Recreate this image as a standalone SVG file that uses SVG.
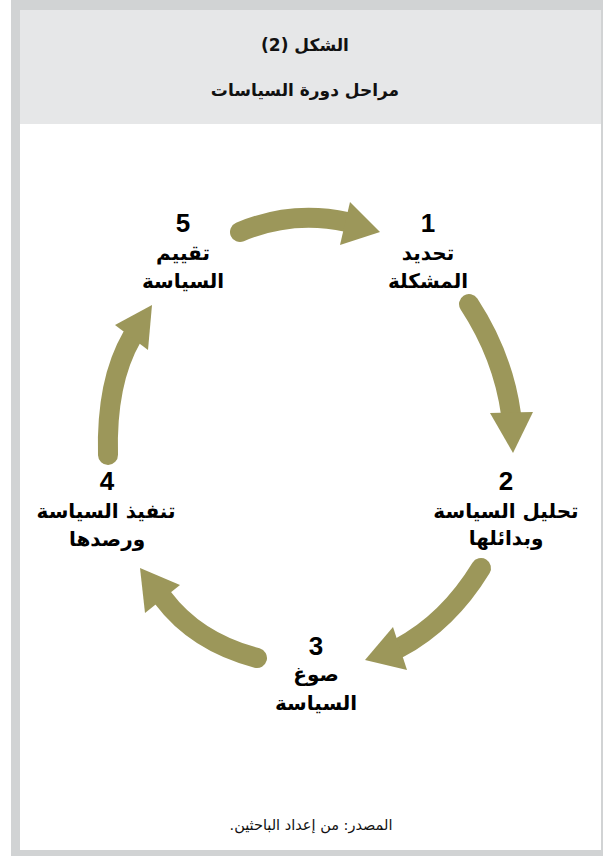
<svg xmlns="http://www.w3.org/2000/svg" width="603" height="856" viewBox="0 0 603 856">
<style>
.title{font-family:"DejaVu Sans",sans-serif;font-weight:bold;font-size:17px;fill:#111;text-anchor:middle;direction:rtl;unicode-bidi:embed}
.num{font-family:"Liberation Sans",Arial,sans-serif;font-weight:bold;font-size:26px;fill:#000;text-anchor:middle}
.lbl{font-family:"DejaVu Sans",sans-serif;font-weight:bold;font-size:20px;fill:#000;text-anchor:middle;direction:rtl;unicode-bidi:embed}
.src{font-family:"DejaVu Sans",sans-serif;font-size:14.5px;fill:#111;text-anchor:middle;direction:rtl;unicode-bidi:embed}
.shaft{fill:none;stroke:#9c975a;stroke-width:20;stroke-linecap:round}
.head{fill:#9c975a}
</style>
<rect x="0" y="0" width="603" height="856" fill="#ffffff"/>
<rect x="11" y="0" width="592" height="856" fill="#d1d3d4"/>
<rect x="20" y="10" width="581" height="840" fill="#ffffff"/>
<rect x="20" y="10" width="581" height="114" fill="#e6e7e8"/>
<text class="title" x="305" y="51">الشكل (2)</text>
<text class="title" x="305" y="96">مراحل دورة السياسات</text>

<g id="connectors">
<path class="shaft" d="M240,232 Q292,210 347,222"/>
<polygon class="head" points="350,202 380,232 340,245"/>
<path class="shaft" d="M469,304 Q503,356 511,414"/>
<polygon class="head" points="490,413 533,412 513,453"/>
<path class="shaft" d="M481,568 Q448,622 399,648"/>
<polygon class="head" points="393,627 407,670 365,660"/>
<path class="shaft" d="M257,658 Q196,642 163,598"/>
<polygon class="head" points="180,585 145,613 140,568"/>
<path class="shaft" d="M108,455 Q106,382 132,337"/>
<polygon class="head" points="115,325 148,350 152,305"/>
</g>

<g id="node1">
<text class="num" x="428" y="232">1</text>
<text class="lbl" x="428" y="260">تحديد</text>
<text class="lbl" x="428" y="288">المشكلة</text>
</g>
<g id="node2">
<text class="num" x="506" y="490">2</text>
<text class="lbl" x="506" y="518">تحليل السياسة</text>
<text class="lbl" x="506" y="545">وبدائلها</text>
</g>
<g id="node3">
<text class="num" x="316" y="655">3</text>
<text class="lbl" x="316" y="681">صوغ</text>
<text class="lbl" x="316" y="710">السياسة</text>
</g>
<g id="node4">
<text class="num" x="107" y="490">4</text>
<text class="lbl" x="106" y="518">تنفيذ السياسة</text>
<text class="lbl" x="107" y="546">ورصدها</text>
</g>
<g id="node5">
<text class="num" x="183" y="232">5</text>
<text class="lbl" x="183" y="260">تقييم</text>
<text class="lbl" x="183" y="288">السياسة</text>
</g>
<text class="src" x="311" y="830">المصدر: من إعداد الباحثين.</text>
</svg>
